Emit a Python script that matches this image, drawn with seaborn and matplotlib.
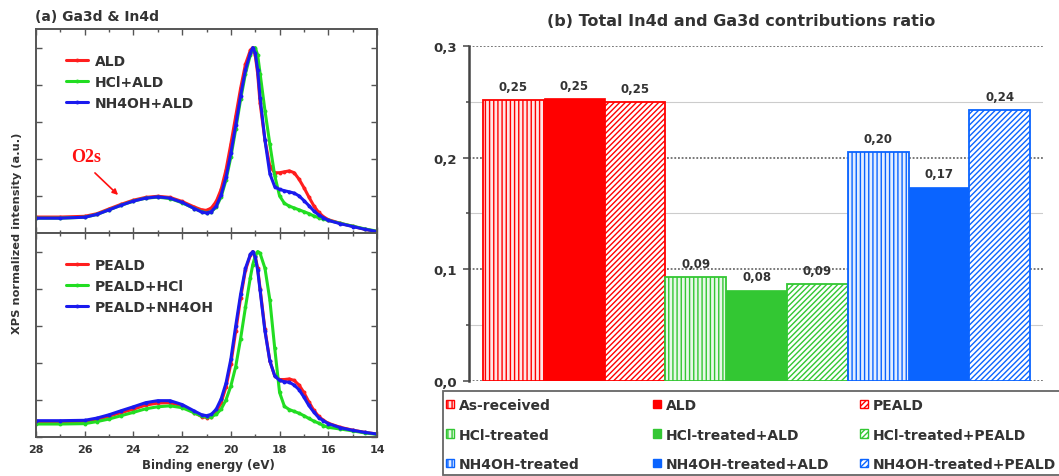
import numpy as np
import pandas as pd
import matplotlib
matplotlib.use('Agg')
import matplotlib.pyplot as plt
from matplotlib.patches import Patch, Rectangle
from matplotlib.ticker import MultipleLocator, FuncFormatter, NullFormatter
import seaborn as sns

# ---------------- data: panel (a) XPS spectra ----------------
energy = [28, 27, 26, 25.5, 25, 24.5, 24, 23.5, 23, 22.5, 22, 21.5, 21.2, 21, 20.8,
          20.6, 20.4, 20.2, 20, 19.8, 19.6, 19.4, 19.2, 19.1, 19.0, 18.9, 18.8, 18.6,
          18.4, 18.2, 18.0, 17.8, 17.6, 17.4, 17.2, 17.0, 16.8, 16.6, 16.4, 16.2, 16.0,
          15.5, 15, 14.5, 14]

ald = [0.086, 0.086, 0.09, 0.104, 0.13, 0.155, 0.177, 0.192, 0.198, 0.192, 0.17, 0.14,
       0.125, 0.122, 0.135, 0.17, 0.235, 0.34, 0.48, 0.63, 0.78, 0.91, 0.985, 1.0, 0.96,
       0.86, 0.70, 0.50, 0.36, 0.325, 0.325, 0.33, 0.335, 0.325, 0.29, 0.245, 0.195,
       0.148, 0.112, 0.088, 0.072, 0.052, 0.036, 0.02, 0.008]
hcl_ald = [0.08, 0.08, 0.085, 0.10, 0.125, 0.15, 0.172, 0.188, 0.193, 0.186, 0.163, 0.132,
           0.115, 0.11, 0.115, 0.14, 0.195, 0.285, 0.41, 0.56, 0.72, 0.86, 0.96, 0.99, 1.0,
           0.96, 0.86, 0.66, 0.48, 0.31, 0.20, 0.16, 0.145, 0.135, 0.125, 0.115, 0.105,
           0.092, 0.083, 0.075, 0.068, 0.052, 0.037, 0.022, 0.01]
nh4oh_ald = [0.08, 0.08, 0.085, 0.10, 0.125, 0.15, 0.172, 0.188, 0.195, 0.188, 0.165, 0.132,
             0.113, 0.108, 0.115, 0.145, 0.205, 0.30, 0.43, 0.58, 0.74, 0.88, 0.97, 1.0, 0.97,
             0.88, 0.73, 0.50, 0.32, 0.25, 0.235, 0.228, 0.222, 0.215, 0.20, 0.175, 0.148,
             0.12, 0.098, 0.082, 0.068, 0.05, 0.035, 0.02, 0.008]

peald = [0.08, 0.08, 0.083, 0.095, 0.112, 0.132, 0.15, 0.172, 0.183, 0.185, 0.168, 0.132,
         0.11, 0.105, 0.11, 0.135, 0.185, 0.27, 0.395, 0.57, 0.75, 0.90, 0.98, 1.0, 0.975,
         0.91, 0.80, 0.58, 0.41, 0.33, 0.31, 0.31, 0.313, 0.305, 0.28, 0.24, 0.19, 0.145,
         0.112, 0.09, 0.074, 0.052, 0.037, 0.025, 0.016]
peald_hcl = [0.07, 0.07, 0.072, 0.083, 0.097, 0.115, 0.133, 0.152, 0.163, 0.168, 0.158, 0.13,
             0.112, 0.108, 0.11, 0.122, 0.15, 0.20, 0.275, 0.38, 0.53, 0.70, 0.86, 0.93, 0.975,
             1.0, 0.99, 0.91, 0.74, 0.48, 0.24, 0.165, 0.148, 0.138, 0.128, 0.115, 0.10,
             0.086, 0.075, 0.062, 0.052, 0.043, 0.033, 0.022, 0.014]
peald_nh4oh = [0.088, 0.088, 0.09, 0.102, 0.12, 0.142, 0.163, 0.185, 0.196, 0.196, 0.175, 0.14,
               0.12, 0.115, 0.122, 0.15, 0.205, 0.29, 0.42, 0.60, 0.77, 0.91, 0.985, 1.0, 0.97,
               0.90, 0.79, 0.57, 0.41, 0.33, 0.305, 0.298, 0.295, 0.28, 0.255, 0.215, 0.17,
               0.135, 0.105, 0.088, 0.072, 0.05, 0.036, 0.025, 0.016]

top_labels = ['ALD', 'HCl+ALD', 'NH4OH+ALD']
bottom_labels = ['PEALD', 'PEALD+HCl', 'PEALD+NH4OH']
line_colors = ['#FF1E1E', '#22DD22', '#1A1AEE']
x_ticks = [28, 26, 24, 22, 20, 18, 16, 14]

# ---------------- data: panel (b) bar chart ----------------
categories = ['As-received', 'ALD', 'PEALD',
              'HCl-treated', 'HCl-treated+ALD', 'HCl-treated+PEALD',
              'NH4OH-treated', 'NH4OH-treated+ALD', 'NH4OH-treated+PEALD']
ratios = [0.252, 0.253, 0.250, 0.093, 0.0815, 0.087, 0.205, 0.174, 0.243]
bar_labels = ['0,25', '0,25', '0,25', '0,09', '0,08', '0,09', '0,20', '0,17', '0,24']
group_colors = ['#FF0000', '#33C733', '#0A64FF']
group_tints = ['#FFE6E6', '#E8F8E8', '#E3EEFF']

# ---------------- style ----------------
sns.set_theme(style='white')
plt.rcParams['font.family'] = ['DejaVu Sans']
plt.rcParams['hatch.linewidth'] = 1.0
TXT = '#333333'
SPINE = '#555555'
W, H = 1059, 477

fig = plt.figure(figsize=(10.59, 4.77), dpi=100)
ax_top = fig.add_axes([36 / W, 1 - 234 / H, 341 / W, 204 / H])
ax_bot = fig.add_axes([36 / W, 1 - 438 / H, 341 / W, 204 / H])
ax_bar = fig.add_axes([469 / W, 1 - 382 / H, 574 / W, 335 / H])


def spectra(ax, series, labels, show_xlabels):
    for vals, lab, col in zip(series, labels, line_colors):
        sns.lineplot(x=energy, y=vals, ax=ax, color=col, lw=2.2, marker='o',
                     markersize=2.8, markeredgewidth=0, label=lab, estimator=None,
                     sort=False)
    ax.set_xlim(28, 14)
    ax.set_ylim(0, 1.1)
    ax.xaxis.set_major_locator(MultipleLocator(2))
    ax.xaxis.set_minor_locator(MultipleLocator(1))
    ax.yaxis.set_major_locator(MultipleLocator(0.2))
    ax.yaxis.set_major_formatter(NullFormatter())
    ax.tick_params(which='both', direction='in', top=True, right=True, left=True,
                   bottom=True, color=SPINE, width=1)
    ax.tick_params(which='major', length=4)
    ax.tick_params(which='minor', length=2.5)
    ax.tick_params(axis='y', labelleft=False)
    if show_xlabels:
        ax.set_xticks(x_ticks)
        ax.tick_params(axis='x', labelbottom=True, labelsize=8, labelcolor=TXT, pad=5)
        for t in ax.get_xticklabels():
            t.set_fontweight('bold')
    else:
        ax.tick_params(axis='x', labelbottom=False)
    for s in ax.spines.values():
        s.set_color(SPINE)
        s.set_linewidth(1.4)
    ax.set_xlabel('')
    ax.set_ylabel('')
    ax.legend(loc='upper left', bbox_to_anchor=(0.072, 0.905), borderaxespad=0,
              frameon=False, prop={'weight': 'bold', 'size': 10}, handlelength=1.6,
              handletextpad=0.45, labelspacing=0.5, labelcolor=TXT)


spectra(ax_top, [ald, hcl_ald, nh4oh_ald], top_labels, False)
spectra(ax_bot, [peald, peald_hcl, peald_nh4oh], bottom_labels, True)

ax_top.text(25.95, 0.41, 'O2s', color='#FF1010', fontfamily='Liberation Serif',
            fontweight='bold', fontsize=13, ha='center', va='center')
ax_top.annotate('', xy=(24.63, 0.205), xytext=(25.58, 0.324),
                arrowprops=dict(arrowstyle='-|>', color='#FF1010', lw=1.2,
                                mutation_scale=8, shrinkA=0, shrinkB=0))

fig.text(35 / W, 1 - 17 / H, '(a) Ga3d & In4d', fontsize=10, fontweight='bold',
         color=TXT, ha='left', va='center')
fig.text(17 / W, 1 - 233 / H, 'XPS normalized intensity (a.u.)', rotation=90,
         fontsize=8.2, fontweight='bold', color=TXT, ha='center', va='center')
fig.text(208 / W, 1 - 466 / H, 'Binding energy (eV)', fontsize=8.5,
         fontweight='bold', color=TXT, ha='center', va='center')

# ---------------- panel (b) ----------------
df = pd.DataFrame({'category': categories, 'ratio': ratios})
pal = {c: group_colors[i // 3] for i, c in enumerate(categories)}
sns.barplot(data=df, x='category', y='ratio', hue='category', palette=pal,
            dodge=False, width=1.0, saturation=1, legend=False, ax=ax_bar, zorder=3)

styles = ['vert', 'solid', 'diag']
hatch_map = {'vert': '||||', 'solid': None, 'diag': '//////'}
patches = sorted(ax_bar.patches, key=lambda p: p.get_x())
for i, p in enumerate(patches):
    col = group_colors[i // 3]
    st = styles[i % 3]
    if st == 'solid':
        p.set_facecolor(col)
        p.set_edgecolor(col)
        p.set_linewidth(0.5)
    else:
        p.set_facecolor(group_tints[i // 3] if st == 'vert' else 'white')
        p.set_edgecolor(col)
        p.set_hatch(hatch_map[st])
        p.set_linewidth(1.3)
    ax_bar.annotate(bar_labels[i], xy=(p.get_x() + p.get_width() / 2, p.get_height()),
                    xytext=(0, 9.5), textcoords='offset points', ha='center', va='center',
                    fontsize=8.5, fontweight='bold', color=TXT)

ax_bar.set_xlim(-0.73, 8.71)
ax_bar.set_ylim(0, 0.3)
ax_bar.yaxis.set_major_locator(MultipleLocator(0.1))
ax_bar.yaxis.set_minor_locator(MultipleLocator(0.05))
ax_bar.yaxis.set_major_formatter(FuncFormatter(lambda v, _: f'{v:.1f}'.replace('.', ',')))
ax_bar.grid(axis='y', which='major', color='#555555', linestyle=(0, (1.2, 1.2)),
            lw=1.1, zorder=0)
ax_bar.grid(axis='y', which='minor', color='#cccccc', linestyle='-', lw=0.8, zorder=0)
ax_bar.set_axisbelow(True)
ax_bar.tick_params(axis='y', which='both', left=True, direction='out', color=SPINE,
                   width=1.2, labelsize=9.5, labelcolor=TXT, pad=4.5)
ax_bar.tick_params(axis='y', which='major', length=4)
ax_bar.tick_params(axis='y', which='minor', length=2.5)
for t in ax_bar.get_yticklabels():
    t.set_fontweight('bold')
ax_bar.set_xticks([])
ax_bar.set_xlabel('')
ax_bar.set_ylabel('')
for k in ['top', 'right', 'bottom']:
    ax_bar.spines[k].set_visible(False)
ax_bar.spines['left'].set_color('#444444')
ax_bar.spines['left'].set_linewidth(1.8)
fig.text(741 / W, 1 - 22 / H, '(b) Total In4d and Ga3d contributions ratio',
         fontsize=11.5, fontweight='bold', color=TXT, ha='center', va='center')

# legend: framed box with three fixed-pitch columns
fig.patches.append(Rectangle((443 / W, 1 - 476 / H), (W + 20 - 443) / W, 84 / H,
                             transform=fig.transFigure, facecolor='white',
                             edgecolor='#666666', lw=1.3, zorder=0))
col_x = [446, 653, 860]
for k in range(3):
    hs, ls = [], []
    for r in range(3):
        i = r * 3 + k
        col = group_colors[i // 3]
        st = styles[i % 3]
        if st == 'solid':
            hs.append(Patch(facecolor=col, edgecolor=col))
        else:
            fc = group_tints[i // 3] if st == 'vert' else 'white'
            hs.append(Patch(facecolor=fc, edgecolor=col, hatch=hatch_map[st], lw=1.0))
        ls.append(categories[i])
    fig.legend(hs, ls, loc='upper left', bbox_to_anchor=(col_x[k] / W, 1 - 399 / H),
               frameon=False, borderaxespad=0, borderpad=0,
               prop={'weight': 'bold', 'size': 10}, handlelength=0.55,
               handleheight=0.55, handletextpad=0.35, labelspacing=1.12, labelcolor=TXT)

fig.savefig('out.png', dpi=100)
